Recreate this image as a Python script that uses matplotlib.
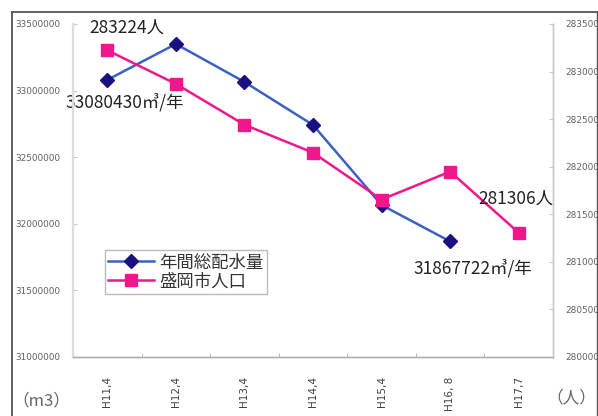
import matplotlib
matplotlib.use("Agg")
import matplotlib.pyplot as plt
from matplotlib.lines import Line2D

plt.rcParams['font.family'] = ['Noto Sans CJK JP', 'DejaVu Sans']

categories = ["H11,4", "H12,4", "H13,4", "H14,4", "H15,4", "H16, 8", "H17,7"]
water = [33080430, 33350000, 33065000, 32742000, 32141000, 31867722]
population = [283224, 282871, 282441, 282148, 281655, 281949, 281306]
left_ticks = [31000000, 31500000, 32000000, 32500000, 33000000, 33500000]
right_ticks = [280000, 280500, 281000, 281500, 282000, 282500, 283000, 283500]

W, H = 598, 416
fig = plt.figure(figsize=(W / 100, H / 100), dpi=100)
ax = fig.add_axes([73 / W, 1 - 357 / H, 480 / W, 333 / H])
ax2 = ax.twinx()

x_w = list(range(len(water)))
x_p = list(range(len(population)))

ax.plot(x_w, water, color='#3a62c0', lw=1.8, marker='D', ms=7.5,
        mfc='#1a1080', mec='#1a1080', zorder=3)
ax2.plot(x_p, population, color='#f0168c', lw=1.8, marker='s', ms=9,
         mfc='#f0168c', mec='#f0168c', zorder=3)

ax.set_xlim(-0.5, len(categories) - 0.5)
ax.set_ylim(left_ticks[0], left_ticks[-1])
ax2.set_ylim(right_ticks[0], right_ticks[-1])
ax.set_yticks(left_ticks)
ax.set_yticklabels([str(v) for v in left_ticks])
ax2.set_yticks(right_ticks)
ax2.set_yticklabels([str(v) for v in right_ticks])

ax.set_xticks(x_p)
ax.set_xticklabels(categories, rotation=90, va='top', ha='center')
ax.set_xticks([i + 0.5 for i in range(len(categories) - 1)], minor=True)

tick_col = '#606060'
ax.tick_params(axis='x', which='major', length=0, pad=14, labelsize=7.5,
               labelcolor='#404040', labelfontfamily='DejaVu Sans')
ax.tick_params(axis='x', which='minor', length=3, direction='in', color='#b0b0b0')
ax.tick_params(axis='y', length=3, direction='in', color='#c8c8c8', pad=9,
               labelsize=6.4, labelcolor=tick_col, labelfontfamily='DejaVu Sans')
ax2.tick_params(axis='y', length=3, direction='in', color='#c8c8c8', pad=9,
                labelsize=6.4, labelcolor=tick_col, labelfontfamily='DejaVu Sans')

for a in (ax, ax2):
    a.spines['top'].set_visible(False)
    a.spines['left'].set_color('#dcdcdc')
    a.spines['left'].set_linewidth(1.5)
    a.spines['right'].set_color('#c8c8c8')
    a.spines['right'].set_linewidth(1.0)
    a.spines['bottom'].set_color('#b0b0b0')
    a.spines['bottom'].set_linewidth(1.0)

fs = 12.5
ax.annotate("33080430㎥/年", xy=(x_w[0], water[0]), xytext=(17, -22),
            textcoords='offset pixels', ha='center', va='center',
            fontsize=fs, color='#222222')
ax.annotate("31867722㎥/年", xy=(x_w[-1], water[-1]), xytext=(23, -27),
            textcoords='offset pixels', ha='center', va='center',
            fontsize=fs, color='#222222')
ax2.annotate("283224人", xy=(x_p[0], population[0]), xytext=(20, 23),
             textcoords='offset pixels', ha='center', va='center',
             fontsize=fs, color='#222222')
ax2.annotate("281306人", xy=(x_p[-1], population[-1]), xytext=(-3, 34),
             textcoords='offset pixels', ha='center', va='center',
             fontsize=fs, color='#222222')

handles = [
    Line2D([], [], color='#3a62c0', lw=1.8, marker='D', ms=7,
           mfc='#1a1080', mec='#1a1080'),
    Line2D([], [], color='#f0168c', lw=1.8, marker='s', ms=8,
           mfc='#f0168c', mec='#f0168c'),
]
leg = ax2.legend(handles, ["年間総配水量", "盛岡市人口"], loc='upper left',
                 bbox_to_anchor=((105 - 73) / 480, (357 - 250) / 333),
                 borderaxespad=0, fontsize=12.5, handlelength=2.6,
                 handletextpad=0.3, labelspacing=0.05, borderpad=0.2,
                 fancybox=False, framealpha=1, edgecolor='#bbbbbb')
for t in leg.get_texts():
    t.set_color('#333333')

fig.text(12 / W, 1 - 401 / H, "（m3）", fontsize=12, color='#666666',
         ha='left', va='center')
fig.text(546 / W, 1 - 398 / H, "（人）", fontsize=12, color='#666666',
         ha='left', va='center')

# outer chart border
fig.add_artist(Line2D([12 / W, 597 / W], [1 - 12 / H, 1 - 12 / H],
                      transform=fig.transFigure, color='#555555', lw=1.3))
fig.add_artist(Line2D([12 / W, 12 / W], [0, 1 - 12 / H],
                      transform=fig.transFigure, color='#555555', lw=1.3))
fig.add_artist(Line2D([597 / W, 597 / W], [0, 1 - 12 / H],
                      transform=fig.transFigure, color='#555555', lw=1.0))

fig.savefig("out.png", dpi=100)
